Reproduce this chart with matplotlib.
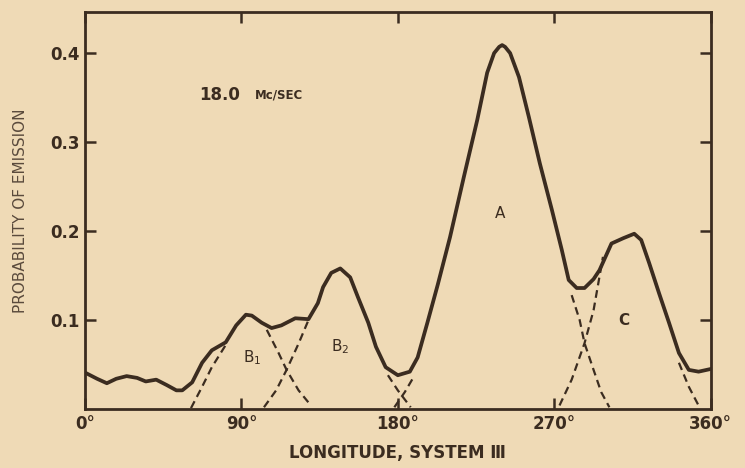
import matplotlib
matplotlib.use("Agg")
import matplotlib.pyplot as plt

# main curve (longitude deg, probability)
lon = [0, 1, 7, 12.6, 18, 24, 30, 35, 41, 47, 52.6, 56, 61.7, 67.4, 73, 81,
       87, 92.6, 96, 101.7, 107.4, 113, 121, 128.6, 134, 137, 141.7, 146.9,
       152.6, 157, 163, 167.4, 173, 180, 186.9, 191.4, 197, 203, 210, 218,
       225.7, 231.4, 235.4, 238.3, 240, 241.7, 244.6, 249.7, 255.4, 261.7,
       268.6, 274.3, 278.3, 282.9, 287.4, 292.6, 296, 302.9, 309.7, 316, 320,
       324.6, 330.3, 336, 341.7, 347.4, 353, 360]
prob = [0.041, 0.040, 0.034, 0.029, 0.034, 0.037, 0.035, 0.031, 0.033, 0.027,
        0.021, 0.021, 0.030, 0.052, 0.066, 0.075, 0.094, 0.106, 0.105, 0.097,
        0.091, 0.094, 0.102, 0.101, 0.119, 0.137, 0.153, 0.158, 0.148, 0.126,
        0.097, 0.070, 0.047, 0.038, 0.042, 0.058, 0.097, 0.140, 0.193, 0.261,
        0.325, 0.378, 0.400, 0.407, 0.409, 0.407, 0.400, 0.373, 0.328, 0.276,
        0.224, 0.179, 0.145, 0.136, 0.136, 0.146, 0.156, 0.186, 0.192, 0.197,
        0.190, 0.164, 0.130, 0.097, 0.063, 0.044, 0.042, 0.045]

# dashed component flanks
b1_left = ([61, 67.4, 73, 81], [0.001, 0.025, 0.047, 0.072])
b1_right = ([104.6, 111.4, 116, 122.9, 130], [0.089, 0.063, 0.044, 0.021, 0.004])
b2_left = ([103, 110, 116, 123, 128.6], [0.002, 0.021, 0.044, 0.074, 0.100])
b2_right = ([174.3, 180, 187.4], [0.038, 0.021, 0.002])
a_left = ([178, 184, 189.7], [0.002, 0.019, 0.038])
a_right = ([280, 284.6, 287.4, 292.6, 297, 301.7], [0.128, 0.100, 0.074, 0.044, 0.019, 0.002])
c_left = ([273, 280, 287.4, 292.6, 298], [0.004, 0.033, 0.074, 0.111, 0.171])
c_right = ([341.7, 347.4, 353], [0.052, 0.025, 0.004])

xticks = [0, 90, 180, 270, 360]
xlabels = ["0°", "90°", "180°", "270°", "360°"]
yticks = [0.1, 0.2, 0.3, 0.4]
ylabels = ["0.1", "0.2", "0.3", "0.4"]

bg = "#efdab6"
ink = "#3b2c20"

fig = plt.figure(figsize=(7.45, 4.68), dpi=100, facecolor=bg)
ax = fig.add_axes([0.114, 0.126, 0.84, 0.848], facecolor=bg)

ax.plot(lon, prob, color=ink, lw=2.7, solid_joinstyle="round", solid_capstyle="round")
for xs, ys in [b1_left, b1_right, b2_left, b2_right, a_left, a_right, c_left, c_right]:
    ax.plot(xs, ys, color=ink, lw=1.6, dashes=(3.5, 2.2))

ax.set_xlim(0, 360)
ax.set_ylim(0, 0.446)
ax.set_xticks(xticks)
ax.set_xticklabels(xlabels, fontsize=12, fontweight="bold", color=ink)
ax.set_yticks(yticks)
ax.set_yticklabels(ylabels, fontsize=12, fontweight="bold", color=ink)
ax.tick_params(axis="both", direction="in", top=True, right=True,
               length=8, width=1.8, color=ink, pad=4)
for s in ax.spines.values():
    s.set_linewidth(2.0)
    s.set_color(ink)

ax.set_ylabel("PROBABILITY OF EMISSION", fontsize=11, color="#5a4a3c", labelpad=16)
ax.set_xlabel("LONGITUDE, SYSTEM Ⅲ", fontsize=12, fontweight="bold", color=ink, labelpad=8)

ax.text(66, 0.353, "18.0", fontsize=12, fontweight="bold", color=ink, va="center")
ax.text(98, 0.353, "Mc/SEC", fontsize=8.5, fontweight="bold", color=ink, va="center")
ax.text(239, 0.220, "A", fontsize=11, color=ink, ha="center", va="center")
ax.text(96, 0.058, "B$_1$", fontsize=11, color=ink, ha="center", va="center")
ax.text(147, 0.070, "B$_2$", fontsize=11, color=ink, ha="center", va="center")
ax.text(310, 0.100, "C", fontsize=11, fontweight="bold", color=ink, ha="center", va="center")

fig.savefig("out.png", dpi=100, facecolor=bg)
